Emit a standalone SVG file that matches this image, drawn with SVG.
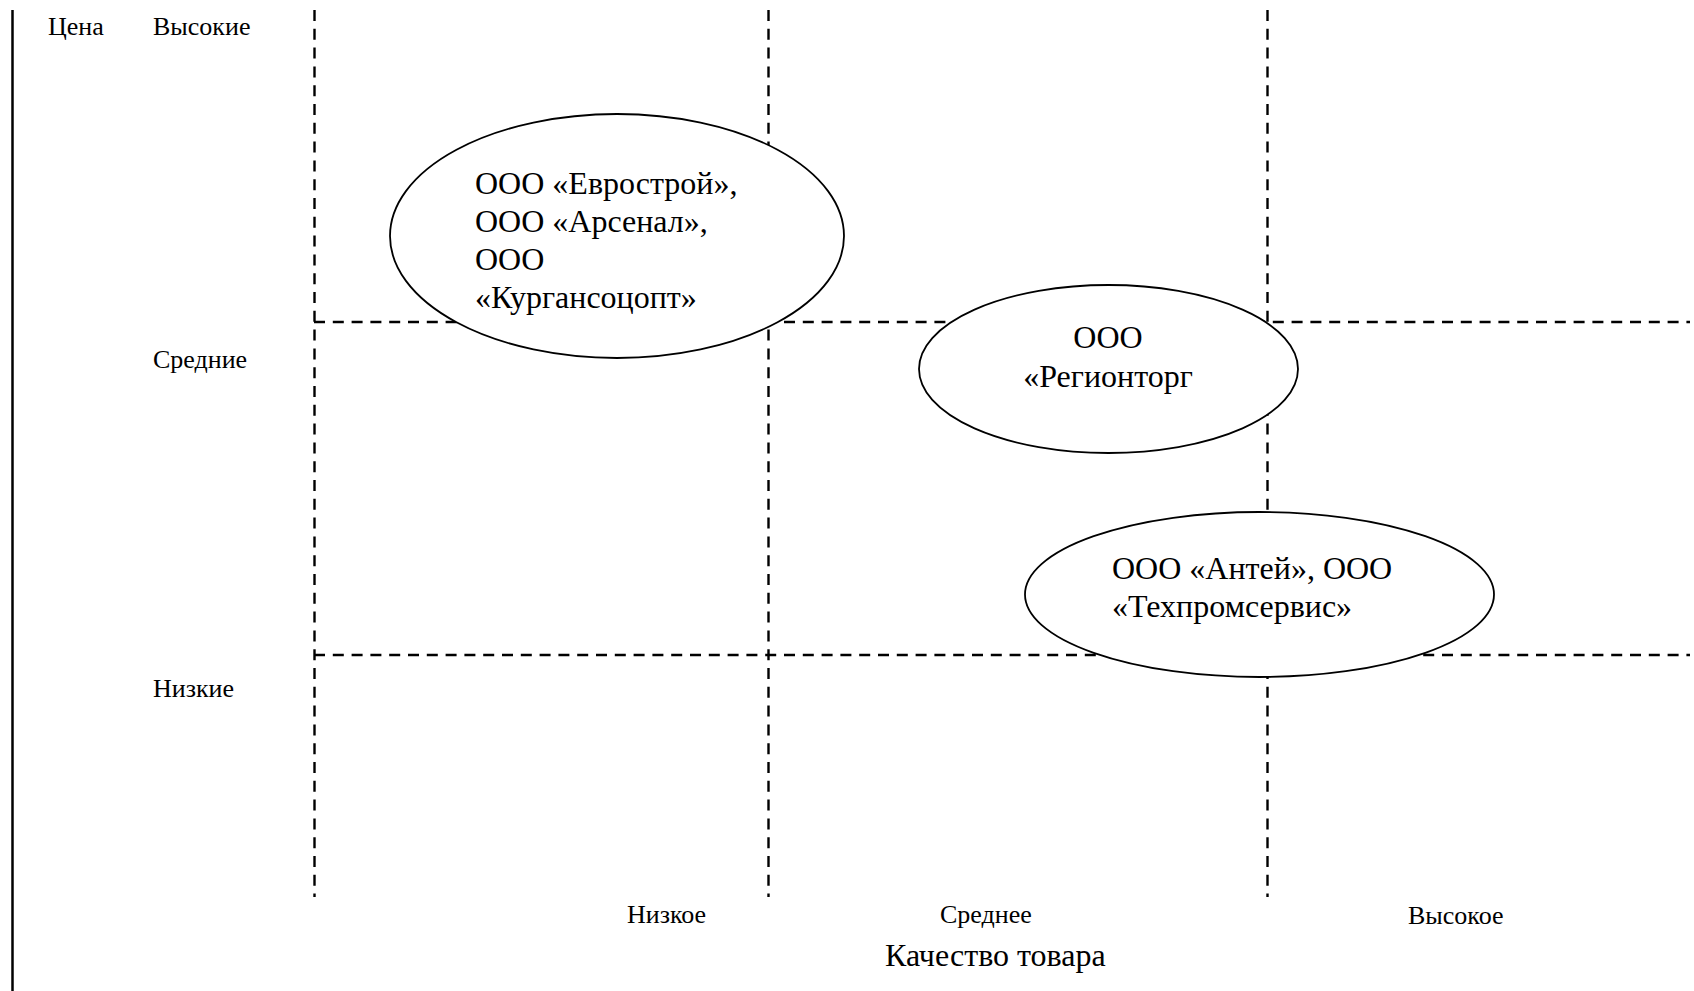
<svg xmlns="http://www.w3.org/2000/svg" width="1694" height="991" viewBox="0 0 1694 991">
<style>
.bg{fill:#ffffff}
.axis{stroke:#000;stroke-width:2.5;fill:none}
.grid{stroke:#000;stroke-width:2.4;stroke-dasharray:11 7.8;fill:none}
.node{fill:#ffffff;stroke:#000;stroke-width:1.8}
.t{font-family:"Liberation Serif","Times New Roman",serif;fill:#000}
.lbl{font-size:26px}
.big{font-size:32px}
.ttl{font-size:32px}
</style>
<rect class="bg" x="0" y="0" width="1694" height="991"/>
<g id="axes">
<line class="axis" x1="12.5" y1="10" x2="12.5" y2="991"/>
</g>
<g id="grid">
<line class="grid" x1="314.5" y1="10" x2="314.5" y2="897"/>
<line class="grid" x1="768.5" y1="10" x2="768.5" y2="897"/>
<line class="grid" x1="1267.5" y1="10" x2="1267.5" y2="897"/>
<line class="grid" x1="314" y1="322" x2="1690" y2="322"/>
<line class="grid" x1="314" y1="655" x2="1690" y2="655"/>
</g>
<g id="labels">
<text class="t lbl" x="48" y="35">Цена</text>
<text class="t lbl" x="153" y="35">Высокие</text>
<text class="t lbl" x="153" y="368">Средние</text>
<text class="t lbl" x="153" y="697">Низкие</text>
<text class="t lbl" x="627" y="923">Низкое</text>
<text class="t lbl" x="940" y="923">Среднее</text>
<text class="t lbl" x="1408" y="924">Высокое</text>
<text class="t ttl" x="885" y="966">Качество товара</text>
</g>
<g id="node-evrostroy">
<ellipse class="node" cx="617" cy="236" rx="227" ry="122"/>
<text class="t big" x="475" y="194">ООО «Еврострой»,</text>
<text class="t big" x="475" y="232">ООО «Арсенал»,</text>
<text class="t big" x="475" y="270">ООО</text>
<text class="t big" x="475" y="308">«Кургансоцопт»</text>
</g>
<g id="node-regiontorg">
<ellipse class="node" cx="1108.5" cy="369" rx="189.5" ry="84"/>
<text class="t big" x="1108" y="348" text-anchor="middle">ООО</text>
<text class="t big" x="1108" y="387" text-anchor="middle">«Регионторг</text>
</g>
<g id="node-antey">
<ellipse class="node" cx="1259.5" cy="594.5" rx="234.5" ry="82.5"/>
<text class="t big" x="1112" y="579">ООО «Антей», ООО</text>
<text class="t big" x="1112" y="617">«Техпромсервис»</text>
</g>
<g id="connectors"></g>
</svg>
